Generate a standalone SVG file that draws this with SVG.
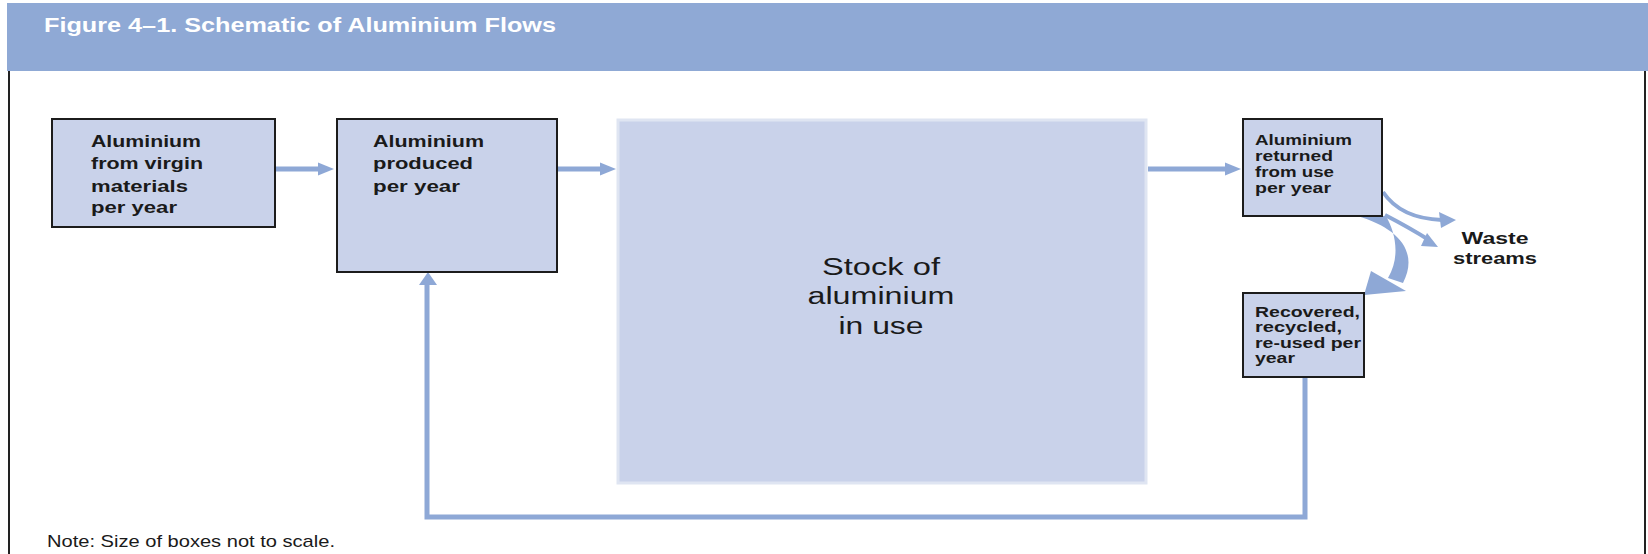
<svg xmlns="http://www.w3.org/2000/svg" width="1648" height="554" viewBox="0 0 1648 554">
<style>
.box{fill:#C9D2EA;stroke:#1c1c1c;stroke-width:2}
.stock{fill:#C9D2EA;stroke:#DFE5F2;stroke-width:3}
.lbl{font-family:"Liberation Sans",Arial,sans-serif;font-weight:bold;fill:#1a1a1a}
.big{font-family:"Liberation Sans",Arial,sans-serif;font-size:23px;fill:#1a1a1a;text-anchor:middle}
.flow{fill:none;stroke:#8EA8D6;stroke-width:5}
.thin{fill:none;stroke:#8EA8D6;stroke-width:4}
.head{fill:#8EA8D6}
</style>
<rect x="0" y="0" width="1648" height="554" fill="#ffffff"/>
<rect x="7" y="3" width="1641" height="68" fill="#8FA9D5"/>
<text x="44" y="32" font-family="'Liberation Sans',Arial,sans-serif" font-weight="bold" font-size="20" fill="#ffffff" textLength="512" lengthAdjust="spacingAndGlyphs">Figure 4–1. Schematic of Aluminium Flows</text>
<line x1="9" y1="71" x2="9" y2="554" stroke="#222" stroke-width="2"/>
<line x1="1645" y1="71" x2="1645" y2="554" stroke="#222" stroke-width="2"/>

<g id="connectors">
<line class="flow" x1="276" y1="169" x2="320" y2="169"/>
<polygon class="head" points="318,162.5 334,169 318,175.5"/>
<line class="flow" x1="558" y1="169" x2="602" y2="169"/>
<polygon class="head" points="600,162.5 616,169 600,175.5"/>
<line class="flow" x1="1148" y1="169" x2="1227" y2="169"/>
<polygon class="head" points="1225,162.5 1241,169 1225,175.5"/>
<path class="flow" d="M1305,377 V517 H427 V283"/>
<polygon class="head" points="419,285 428,272 437,285"/>
<path class="thin" d="M1383,192 C1395,210 1415,219 1442,220"/>
<polygon class="head" points="1439,212 1456,220 1441,228"/>
<path class="thin" d="M1385,215 Q1410,228 1429,240"/>
<polygon class="head" points="1427,233 1438,247 1421,246"/>
<path class="head" d="M1357,216 C1399,228 1419,252 1403,283 L1388,278 C1401,256 1395,232 1386,216 Z"/>
<polygon class="head" points="1371,271 1406,291 1364,295"/>
</g>

<g id="node-virgin">
<rect class="box" x="52" y="119" width="223" height="108"/>
<text class="lbl" font-size="17"><tspan x="91" y="147" textLength="110" lengthAdjust="spacingAndGlyphs">Aluminium</tspan><tspan x="91" y="169" textLength="112" lengthAdjust="spacingAndGlyphs">from virgin</tspan><tspan x="91" y="192" textLength="97" lengthAdjust="spacingAndGlyphs">materials</tspan><tspan x="91" y="213" textLength="86" lengthAdjust="spacingAndGlyphs">per year</tspan></text>
</g>

<g id="node-produced">
<rect class="box" x="337" y="119" width="220" height="153"/>
<text class="lbl" font-size="17"><tspan x="373" y="147" textLength="111" lengthAdjust="spacingAndGlyphs">Aluminium</tspan><tspan x="373" y="169" textLength="100" lengthAdjust="spacingAndGlyphs">produced</tspan><tspan x="373" y="192" textLength="87" lengthAdjust="spacingAndGlyphs">per year</tspan></text>
</g>

<g id="node-stock">
<rect class="stock" x="618" y="120" width="528" height="363"/>
<text class="big"><tspan x="881" y="275" textLength="118" lengthAdjust="spacingAndGlyphs">Stock of</tspan><tspan x="881" y="304" textLength="147" lengthAdjust="spacingAndGlyphs">aluminium</tspan><tspan x="881" y="334" textLength="85" lengthAdjust="spacingAndGlyphs">in use</tspan></text>
</g>

<g id="node-returned">
<rect class="box" x="1243" y="119" width="139" height="97"/>
<text class="lbl" font-size="15"><tspan x="1255" y="145" textLength="97" lengthAdjust="spacingAndGlyphs">Aluminium</tspan><tspan x="1255" y="161" textLength="78" lengthAdjust="spacingAndGlyphs">returned</tspan><tspan x="1255" y="177" textLength="79" lengthAdjust="spacingAndGlyphs">from use</tspan><tspan x="1255" y="193" textLength="76" lengthAdjust="spacingAndGlyphs">per year</tspan></text>
</g>

<g id="node-waste">
<text class="lbl" font-size="17" text-anchor="middle"><tspan x="1495" y="244" textLength="67" lengthAdjust="spacingAndGlyphs">Waste</tspan><tspan x="1495" y="264" textLength="84" lengthAdjust="spacingAndGlyphs">streams</tspan></text>
</g>

<g id="node-recovered">
<rect class="box" x="1243" y="293" width="121" height="84"/>
<text class="lbl" font-size="15"><tspan x="1255" y="317" textLength="105" lengthAdjust="spacingAndGlyphs">Recovered,</tspan><tspan x="1255" y="332" textLength="87" lengthAdjust="spacingAndGlyphs">recycled,</tspan><tspan x="1255" y="348" textLength="106" lengthAdjust="spacingAndGlyphs">re-used per</tspan><tspan x="1255" y="363" textLength="40" lengthAdjust="spacingAndGlyphs">year</tspan></text>
</g>

<text x="47" y="547" font-family="'Liberation Sans',Arial,sans-serif" font-size="17" fill="#1a1a1a" textLength="288" lengthAdjust="spacingAndGlyphs">Note: Size of boxes not to scale.</text>
</svg>
